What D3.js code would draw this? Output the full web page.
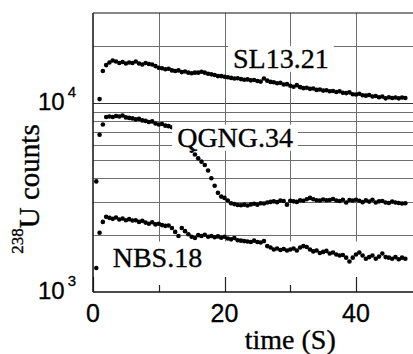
<!DOCTYPE html>
<html>
<head>
<meta charset="utf-8">
<script src="https://cdn.jsdelivr.net/npm/d3@7"></script>
<style>
  body { margin: 0; background: #fff; }
  svg { display: block; }
</style>
</head>
<body>
<div id="chart"></div>
<script>
// time in seconds, one reading every 0.5 s
const times = [0.5, 1, 1.5, 2, 2.5, 3, 3.5, 4, 4.5, 5, 5.5, 6, 6.5, 7, 7.5, 8, 8.5, 9, 9.5, 10,
  10.5, 11, 11.5, 12, 12.5, 13, 13.5, 14, 14.5, 15, 15.5, 16, 16.5, 17, 17.5, 18, 18.5, 19, 19.5, 20,
  20.5, 21, 21.5, 22, 22.5, 23, 23.5, 24, 24.5, 25, 25.5, 26, 26.5, 27, 27.5, 28, 28.5, 29, 29.5, 30,
  30.5, 31, 31.5, 32, 32.5, 33, 33.5, 34, 34.5, 35, 35.5, 36, 36.5, 37, 37.5, 38, 38.5, 39, 39.5, 40,
  40.5, 41, 41.5, 42, 42.5, 43, 43.5, 44, 44.5, 45, 45.5, 46, 46.5, 47, 47.5];

// 238U counts per sample
const sl1321 = [null, 10500, 14800, 15900, 16400, 16800, 16600, 16300, 16500, 16200, 16400, 16300,
  16600, 16200, 16000, 16300, 16100, 16000, 15700, 15400, 15300, 15100, 15200, 14900, 14800, 14900,
  14600, 14700, 14500, 14400, 14500, 14500, 14650, 14500, 14300, 14200, 14100, 13900, 13900, 13800,
  13700, 13600, 13500, 13550, 13400, 13300, 13350, 13200, 13250, 13100, 13000, 13500, 13150, 12950,
  12900, 12750, 12800, 12550, 12600, 12350, 12200, 12450, 12150, 12000, 12050, 11900, 11950, 11750,
  11800, 11650, 11700, 11550, 11600, 11450, 11550, 11350, 11300, 11400, 11150, 11100, 11200, 11000,
  10950, 11050, 10850, 10900, 10750, 10850, 10600, 10750, 10650, 10700, 10600, 10700, 10650];

const qgng34 = [3850, 6800, 7700, 8450, 8500, 8450, 8550, 8500, 8600, 8400, 8350, 8300, 8200, 8250,
  8100, 8050, 7950, 8000, 7800, 7700, 7750, 7600, 7550, 7450, 7300, 7000, 6600, 6200, 5900, 5600,
  5350, 5100, 4900, 4700, 4400, 4000, 3650, 3350, 3200, 3150, 3050, 2950, 2920, 2890, 2880, 2900,
  2870, 2910, 2930, 2900, 2950, 2940, 2980, 3000, 3020, 2990, 3050, 3030, 2900, 3040, 3020, 3000,
  3060, 3040, 3100, 3150, 3100, 3060, 3050, 3090, 3060, 3070, 3110, 3050, 3030, 3080, 2980, 3070,
  3050, 3080, 3040, 2990, 3060, 3010, 3080, 2980, 3020, 3030, 2980, 2960, 3010, 2980, 2960, 2940, 2950];

const nbs18 = [1340, 2060, 2350, 2500, 2470, 2440, 2480, 2420, 2450, 2400, 2430, 2390, 2400, 2350,
  2380, 2330, 2300, 2340, 2280, 2300, 2260, 2240, 2250, 2180, 2080, 1980, 2180, 2100, 2020, 1960,
  1930, 2000, 1980, 2010, 1960, 1980, 1950, 1970, 1940, 1960, 1920, 1900, 1930, 1880, 1870, 1860,
  1850, 1840, 1870, 1840, 1830, 1860, 1750, 1720, 1680, 1700, 1670, 1690, 1660, 1680, 1700, 1660,
  1720, 1750, 1730, 1680, 1640, 1660, 1610, 1630, 1650, 1600, 1620, 1580, 1560, 1570, 1520, 1450,
  1520, 1580, 1620, 1560, 1500, 1530, 1560, 1500, 1540, 1600, 1530, 1520, 1500, 1530, 1490, 1520, 1500];

const seriesNames = ['SL13.21', 'QGNG.34', 'NBS.18'];
// where each sample name is written: [time, counts]
const labelAnchors = [[21.3, 15370], [12.8, 5880], [3.0, 1360]];

const xTicks = [0, 20, 40];
const xMinorTicks = [10, 30];
const yTicks = [1000, 10000];
const yGridValues = [2000, 3000, 4000, 5000, 6000, 7000, 8000, 9000, 10000, 20000];

const W = 413, H = 354;
const margin = {top: 13, left: 93, bottom: 62};
const serif = "'Liberation Serif','Times New Roman',serif";
const sans = "'Liberation Sans',Arial,Helvetica,sans-serif";

const x = d3.scaleLinear().domain([0, 49]).range([margin.left, margin.left + 322.2]);
const y = d3.scaleLog().domain([1000, 30000]).range([H - margin.bottom, margin.top]);

const svg = d3.select('#chart').append('svg')
  .attr('width', W)
  .attr('height', H);

svg.append('rect').attr('width', W).attr('height', H).attr('fill', '#fff');

// horizontal grid
svg.selectAll('.hgrid')
  .data(yGridValues)
  .enter().append('line')
  .attr('class', 'hgrid')
  .attr('x1', x(0)).attr('x2', W)
  .attr('y1', function(d) { return Math.round(y(d)) + 0.5; })
  .attr('y2', function(d) { return Math.round(y(d)) + 0.5; })
  .attr('stroke', function(d) { return d === 10000 ? '#333' : '#6e6e6e'; })
  .attr('stroke-width', 1);

// vertical grid stops a little under 2000 counts
const gridBottom = y(1850);
svg.selectAll('.vgrid')
  .data(xMinorTicks.concat([20, 40]))
  .enter().append('line')
  .attr('class', 'vgrid')
  .attr('x1', function(d) { return Math.round(x(d)) + 0.5; })
  .attr('x2', function(d) { return Math.round(x(d)) + 0.5; })
  .attr('y1', y(30000)).attr('y2', gridBottom)
  .attr('stroke', '#6e6e6e')
  .attr('stroke-width', 1);

// inward ticks on the time axis
svg.selectAll('.xtick')
  .data(xTicks.concat(xMinorTicks))
  .enter().append('line')
  .attr('x1', function(d) { return Math.round(x(d)) + 0.5; })
  .attr('x2', function(d) { return Math.round(x(d)) + 0.5; })
  .attr('y1', y(1000))
  .attr('y2', function(d) { return y(1000) - (xTicks.indexOf(d) >= 0 ? 15 : 7); })
  .attr('stroke', '#222')
  .attr('stroke-width', 1.2);

// the three samples
const series = [sl1321, qgng34, nbs18];
series.forEach(function(vals) {
  const pts = times.map(function(t, i) { return {t: t, v: vals[i]}; })
    .filter(function(d) { return d.v != null; });
  svg.append('g').selectAll('circle')
    .data(pts)
    .enter().append('circle')
    .attr('cx', function(d) { return x(d.t); })
    .attr('cy', function(d) { return y(d.v); })
    .attr('r', 2.3)
    .attr('fill', '#000');
});

// sample names on white boxes
seriesNames.forEach(function(name, i) {
  const a = labelAnchors[i];
  const g = svg.append('g');
  const box = g.append('rect').attr('fill', '#fff');
  const txt = g.append('text')
    .attr('x', x(a[0]))
    .attr('y', y(a[1]))
    .style('font-family', serif)
    .style('font-size', '28px')
    .style('stroke', '#000')
    .style('stroke-width', 0.35)
    .text(name);
  const bb = txt.node().getBBox();
  box.attr('x', bb.x - 5).attr('y', y(a[1]) - 22)
    .attr('width', bb.width + 10).attr('height', 26);
});

// frame
svg.append('line')
  .attr('x1', x(0)).attr('x2', W).attr('y1', y(30000)).attr('y2', y(30000))
  .attr('stroke', '#111').attr('stroke-width', 1.2);
svg.append('line')
  .attr('x1', x(0)).attr('x2', W).attr('y1', y(1000)).attr('y2', y(1000))
  .attr('stroke', '#111').attr('stroke-width', 1.5);
svg.append('line')
  .attr('x1', x(0)).attr('x2', x(0)).attr('y1', y(30000)).attr('y2', y(1000))
  .attr('stroke', '#111').attr('stroke-width', 1.5);

// x tick labels
svg.selectAll('.xlab')
  .data(xTicks)
  .enter().append('text')
  .attr('x', function(d) { return x(d); })
  .attr('y', y(1000) + 30)
  .attr('text-anchor', 'middle')
  .style('font-family', sans)
  .style('font-size', '25px')
  .style('stroke', '#000')
  .style('stroke-width', 0.3)
  .text(function(d) { return d; });

// y tick labels as powers of ten
yTicks.forEach(function(d) {
  const t = svg.append('text')
    .attr('x', 76)
    .attr('y', y(d) + 7)
    .attr('text-anchor', 'end')
    .style('font-family', sans)
    .style('font-size', '24px')
    .style('stroke', '#000')
    .style('stroke-width', 0.3);
  t.append('tspan').text('10');
  t.append('tspan')
    .attr('dx', 3).attr('dy', -13)
    .style('font-size', '15px')
    .text(Math.round(Math.log10(d)));
});

// axis titles
svg.append('text')
  .attr('x', x(30))
  .attr('y', 349)
  .attr('text-anchor', 'middle')
  .style('font-family', serif)
  .style('font-size', '28px')
  .style('stroke', '#000')
  .style('stroke-width', 0.35)
  .text('time (S)');

const yl = svg.append('text')
  .attr('transform', 'translate(39,189) rotate(-90)')
  .attr('text-anchor', 'middle')
  .style('font-family', serif)
  .style('font-size', '29px')
  .style('stroke', '#000')
  .style('stroke-width', 0.35);
yl.append('tspan').attr('dy', -16).style('font-size', '17px').text('238');
yl.append('tspan').attr('dy', 16).text('U counts');
</script>
</body>
</html>
